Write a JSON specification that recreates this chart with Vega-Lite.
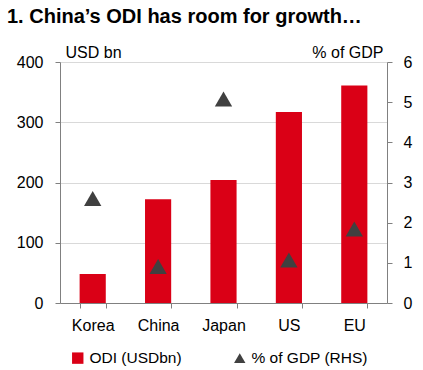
{
  "$schema": "https://vega.github.io/schema/vega-lite/v6.json",
  "autosize": "none",
  "width": 327,
  "height": 241,
  "padding": {"left": 60, "top": 62, "right": 36, "bottom": 67},
  "background": "white",
  "title": {
    "text": "1. China’s ODI has room for growth…",
    "anchor": "start",
    "frame": "group",
    "dx": -53,
    "offset": 17,
    "fontSize": 20,
    "fontWeight": "bold",
    "font": "Liberation Sans",
    "color": "#000000"
  },
  "data": {
    "values": [
      {"country": "Korea", "odi": 48, "pct": 2.6},
      {"country": "China", "odi": 172, "pct": 0.91},
      {"country": "Japan", "odi": 204, "pct": 5.08},
      {"country": "US", "odi": 317, "pct": 1.07},
      {"country": "EU", "odi": 361, "pct": 1.84}
    ]
  },
  "encoding": {
    "x": {
      "field": "country",
      "type": "nominal",
      "sort": ["Korea", "China", "Japan", "US", "EU"],
      "scale": {"paddingInner": 0.6, "paddingOuter": 0.3},
      "axis": {
        "title": null,
        "labelAngle": 0,
        "labelFontSize": 16,
        "labelColor": "#000000",
        "labelPadding": 9,
        "tickBand": "extent",
        "tickSize": 5,
        "tickColor": "#808080",
        "domainColor": "#808080",
        "grid": false
      }
    }
  },
  "layer": [
    {
      "mark": {"type": "bar"},
      "encoding": {
        "y": {
          "field": "odi",
          "type": "quantitative",
          "scale": {"domain": [0, 400], "nice": false},
          "axis": {
            "orient": "left",
            "values": [0, 100, 200, 300, 400],
            "title": "USD bn",
            "titleAngle": 0,
            "titleAlign": "left",
            "titleBaseline": "alphabetic",
            "titleX": 5,
            "titleY": -5,
            "titleFontSize": 16,
            "titleFontWeight": "normal",
            "titleColor": "#000000",
            "labelFontSize": 16,
            "labelColor": "#000000",
            "labelPadding": 12,
            "tickSize": 5,
            "tickColor": "#808080",
            "domainColor": "#808080",
            "grid": true,
            "gridColor": "#D9D9D9"
          }
        },
        "color": {
          "datum": "ODI (USDbn)",
          "scale": {
            "domain": ["ODI (USDbn)", "% of GDP (RHS)"],
            "range": ["#DA0016", "#404040"]
          },
          "legend": {
            "title": null,
            "orient": "none",
            "legendX": 10,
            "legendY": 288,
            "direction": "horizontal",
            "columnPadding": 50,
            "symbolSize": 130,
            "symbolStrokeWidth": 0,
            "labelFontSize": 15.5,
            "labelColor": "#000000",
            "labelOffset": 4,
            "labelLimit": 0
          }
        }
      }
    },
    {
      "mark": {"type": "point", "filled": true, "opacity": 1, "size": 300},
      "encoding": {
        "y": {
          "field": "pct",
          "type": "quantitative",
          "scale": {"domain": [0, 6], "nice": false},
          "axis": {
            "orient": "right",
            "values": [0, 1, 2, 3, 4, 5, 6],
            "title": "% of GDP",
            "titleAngle": 0,
            "titleAlign": "right",
            "titleBaseline": "alphabetic",
            "titleX": -4,
            "titleY": -5,
            "titleFontSize": 16,
            "titleFontWeight": "normal",
            "titleColor": "#000000",
            "labelFontSize": 16,
            "labelColor": "#000000",
            "labelPadding": 11,
            "tickSize": 5,
            "tickColor": "#808080",
            "domainColor": "#808080",
            "grid": false
          }
        },
        "color": {"datum": "% of GDP (RHS)"},
        "shape": {
          "datum": "% of GDP (RHS)",
          "scale": {
            "domain": ["ODI (USDbn)", "% of GDP (RHS)"],
            "range": ["square", "triangle-up"]
          }
        }
      }
    }
  ],
  "resolve": {"scale": {"y": "independent"}},
  "config": {
    "font": "Liberation Sans",
    "view": {"stroke": null}
  }
}
